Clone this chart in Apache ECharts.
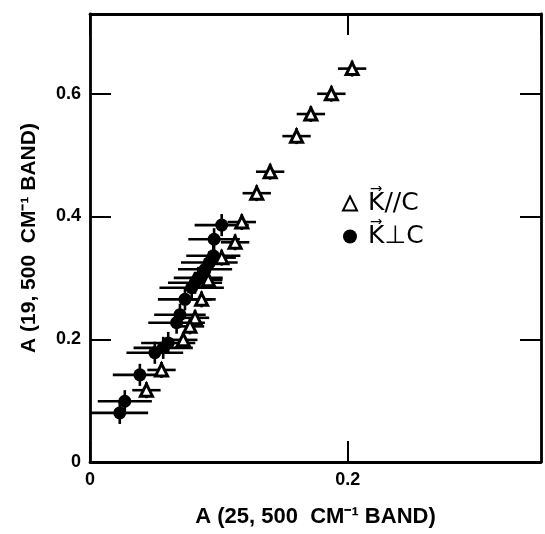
<!DOCTYPE html>
<html>
<head>
<meta charset="utf-8">
<script src="https://cdn.jsdelivr.net/npm/echarts@6/dist/echarts.min.js"></script>
<style>
html,body{margin:0;padding:0;background:#fff;}
#chart{width:545px;height:534px;}
</style>
</head>
<body>
<div id="chart"></div>
<script>
// K parallel C (open triangles)
var parX  = [0.2034, 0.1873, 0.1714, 0.1603, 0.1398, 0.1294, 0.1178, 0.1126, 0.1022, 0.0918, 0.0866, 0.0815, 0.0776, 0.0724, 0.0555, 0.0438];
var parY  = [0.641, 0.600, 0.567, 0.531, 0.473, 0.438, 0.391, 0.358, 0.333, 0.297, 0.265, 0.235, 0.221, 0.199, 0.150, 0.117];
var parXe = [0.011, 0.011, 0.011, 0.011, 0.011, 0.011, 0.011, 0.011, 0.011, 0.011, 0.011, 0.011, 0.011, 0.011, 0.011, 0.011];
var parYe = [0.013, 0.013, 0.013, 0.013, 0.013, 0.013, 0.013, 0.013, 0.013, 0.013, 0.013, 0.013, 0.013, 0.013, 0.013, 0.013];
// K perpendicular C (filled circles)
var perX  = [0.1022, 0.0963, 0.0957, 0.0926, 0.0893, 0.0840, 0.0815, 0.0789, 0.0737, 0.0698, 0.0672, 0.0607, 0.0568, 0.0503, 0.0387, 0.0270, 0.0231];
var perY  = [0.386, 0.363, 0.336, 0.325, 0.314, 0.300, 0.292, 0.284, 0.265, 0.240, 0.227, 0.194, 0.186, 0.178, 0.142, 0.099, 0.080];
var perXe = [0.021, 0.020, 0.021, 0.022, 0.021, 0.019, 0.021, 0.025, 0.021, 0.020, 0.022, 0.021, 0.023, 0.022, 0.021, 0.021, 0.022];
var perYe = [0.018, 0.018, 0.018, 0.018, 0.018, 0.018, 0.018, 0.018, 0.018, 0.018, 0.018, 0.018, 0.018, 0.018, 0.018, 0.018, 0.018];

var xTickLabels = {0: '0', 0.2: '0.2'};
var yTickLabels = {0: '0', 0.2: '0.2', 0.4: '0.4', 0.6: '0.6'};
var xTitle = 'A (25, 500  CM\u207B\u00B9 BAND)';
var yTitle = 'A (19, 500  CM\u207B\u00B9 BAND)';
var parName = 'K\u20D7//C';
var perName = 'K\u20D7\u22A5C';

function pts(xs, ys) { return xs.map(function (x, i) { return [x, ys[i]]; }); }
function errs(xs, ys, xe, ye) { return xs.map(function (x, i) { return [x, ys[i], xe[i], ye[i]]; }); }

function errRender(params, api) {
  var x = api.value(0), y = api.value(1), xe = api.value(2), ye = api.value(3);
  var l = api.coord([x - xe, y]), r = api.coord([x + xe, y]);
  var b = api.coord([x, y - ye]), t = api.coord([x, y + ye]);
  var st = {stroke: '#000', lineWidth: 2.6};
  return {type: 'group', children: [
    {type: 'line', shape: {x1: l[0], y1: l[1], x2: r[0], y2: r[1]}, style: st},
    {type: 'line', shape: {x1: b[0], y1: b[1], x2: t[0], y2: t[1]}, style: st}
  ]};
}

var font = 'Liberation Sans';
var chart = echarts.init(document.getElementById('chart'));
var axisLine = {show: true, onZero: false, lineStyle: {color: '#000', width: 2.8}};
var tick = {show: true, inside: true, length: 21, lineStyle: {color: '#000', width: 2}};
chart.setOption({
  animation: false,
  backgroundColor: '#fff',
  grid: {left: 90, right: 4, top: 14, bottom: 72},
  legend: {
    orient: 'vertical', left: 337, top: 185, itemGap: 6,
    itemWidth: 14, itemHeight: 14,
    textStyle: {fontFamily: 'DejaVu Sans', fontSize: 25, lineHeight: 27, color: '#000', padding: [0, 0, 0, 6]},
    data: [parName, perName]
  },
  xAxis: [{
    type: 'value', min: 0, max: 0.35, interval: 0.2,
    axisLine: axisLine, axisTick: tick, splitLine: {show: false},
    axisLabel: {fontFamily: font, fontWeight: 'bold', fontSize: 18, color: '#000', margin: 9, showMaxLabel: false,
      formatter: function (v) { return xTickLabels[v] !== undefined ? xTickLabels[v] : ''; }},
    name: xTitle, nameLocation: 'middle', nameGap: 44,
    nameTextStyle: {fontFamily: font, fontWeight: 'bold', fontSize: 22, color: '#000'}
  }, {
    type: 'value', position: 'top', min: 0, max: 0.35, interval: 0.2,
    axisLine: axisLine, axisTick: tick,
    axisLabel: {show: false}, splitLine: {show: false}
  }],
  yAxis: [{
    type: 'value', min: 0, max: 0.73, interval: 0.2,
    axisLine: axisLine, axisTick: tick, splitLine: {show: false},
    axisLabel: {fontFamily: font, fontWeight: 'bold', fontSize: 18, color: '#000', margin: 9, showMaxLabel: false,
      formatter: function (v) { return yTickLabels[v] !== undefined ? yTickLabels[v] : ''; }},
    name: yTitle, nameLocation: 'middle', nameGap: 50, nameRotate: 90,
    nameTextStyle: {fontFamily: font, fontWeight: 'bold', fontSize: 21, color: '#000'}
  }, {
    type: 'value', position: 'right', min: 0, max: 0.73, interval: 0.2,
    axisLine: axisLine, axisTick: tick,
    axisLabel: {show: false}, splitLine: {show: false}
  }],
  series: [
    {type: 'custom', name: 'errPar', renderItem: errRender, data: errs(parX, parY, parXe, parYe), z: 1, silent: true},
    {type: 'custom', name: 'errPer', renderItem: errRender, data: errs(perX, perY, perXe, perYe), z: 1, silent: true},
    {type: 'scatter', name: parName, data: pts(parX, parY), symbol: 'triangle', symbolSize: 12,
      itemStyle: {color: '#fff', borderColor: '#000', borderWidth: 3, opacity: 1}, z: 3},
    {type: 'scatter', name: perName, data: pts(perX, perY), symbol: 'circle', symbolSize: 13,
      itemStyle: {color: '#000', opacity: 1}, z: 3}
  ]
});
</script>
</body>
</html>
